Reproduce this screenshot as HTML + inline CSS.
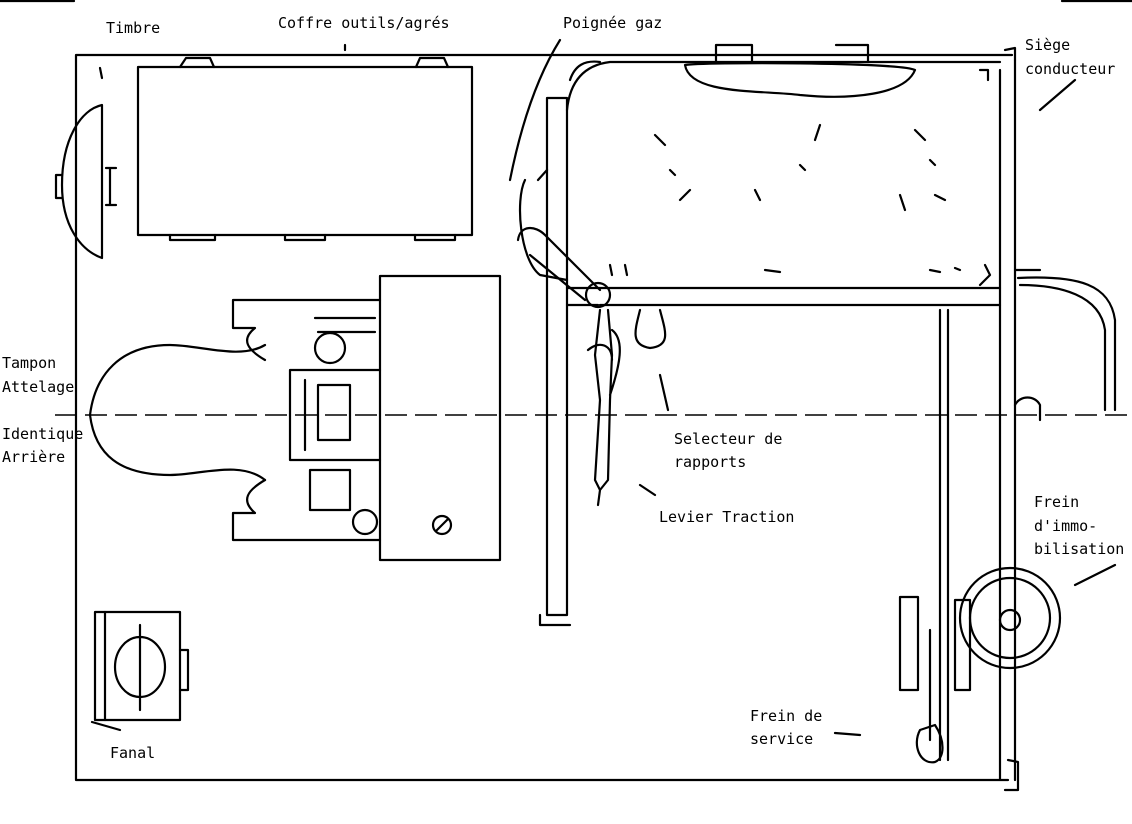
<!DOCTYPE html>
<html><head><meta charset="utf-8"><style>
html,body{margin:0;padding:0;background:#fff}
svg{display:block}
text{font-family:"DejaVu Sans Mono","Liberation Mono",monospace;font-size:15px;fill:#000}
</style></head><body>
<svg width="1132" height="824" viewBox="0 0 1132 824" xmlns="http://www.w3.org/2000/svg">
<g fill="none" stroke="#000" stroke-width="2.2" stroke-linecap="round" stroke-linejoin="round">
<line x1="0" y1="1" x2="74" y2="1"/>
<line x1="1062" y1="1" x2="1132" y2="1"/>
<path d="M76 55 L1012 55 M76 55 L76 780 L1008 780 M1000 70 L1000 780 M1015 60 L1015 780"/>
<path d="M1005 50 L1015 48 L1015 60 M1008 760 L1018 762 L1018 790 L1005 790"/>
<path d="M100 68 L102 78"/>
<path d="M102 105 C80 110 62 140 62 185 C62 225 80 250 102 258 Z"/>
<path d="M62 175 L56 175 L56 198 L62 198 M110 168 L110 205 M106 168 L116 168 M106 205 L116 205"/>
<rect x="138" y="67" width="334" height="168"/>
<path d="M180 67 L186 58 L210 58 L214 67 M416 67 L420 58 L444 58 L448 67 M170 235 L170 240 L215 240 L215 235 M285 235 L285 240 L325 240 L325 235 M415 235 L415 240 L455 240 L455 235"/>
<path d="M547 98 L567 98 L567 615 L547 615 Z M547 615 L547 600 M540 615 L540 625 L570 625"/>
<path d="M567 110 C570 80 585 65 610 62 L1000 62 M600 62 C585 60 575 65 570 80"/>
<path d="M567 288 L1000 288 M600 305 L1000 305 M567 305 L598 305"/>
<path d="M980 70 L988 70 L988 80 M985 265 L990 275 L980 285"/>
<path d="M685 65 C690 95 760 90 800 95 C850 100 905 95 915 70 C900 62 700 62 685 65 Z"/>
<path d="M716 45 L752 45 L752 62 M716 45 L716 62 M836 45 L868 45 L868 62"/>
<path d="M525 180 C515 200 520 260 540 275 L567 280 M538 180 L547 170"/>
<path d="M518 240 C520 225 535 225 545 235 L600 290 M530 255 L585 300"/>
<circle cx="598" cy="295" r="12"/>
<path d="M610 265 L612 275 M625 265 L627 275 M930 270 L940 272 M955 268 L960 270 M765 270 L780 272 M670 170 L675 175 M800 165 L805 170 M930 160 L935 165 M820 125 L815 140 M915 130 L925 140 M655 135 L665 145 M755 190 L760 200 M690 190 L680 200 M900 195 L905 210 M935 195 L945 200"/>
<path d="M940 310 L940 760 M948 310 L948 760"/>
<path d="M600 310 L595 355 L600 400 L595 480 L600 490 L608 480 L610 400 L612 355 L608 310 M612 330 C625 340 620 365 610 395 M588 350 C600 340 612 345 612 360 M600 490 L598 505"/>
<path d="M640 310 C635 330 630 345 650 348 C672 346 665 330 660 310"/>
<path d="M1015 270 L1040 270 M1018 278 C1080 275 1110 285 1115 320 L1115 410 M1020 285 C1060 285 1100 295 1105 330 L1105 410"/>
<path d="M1015 405 C1020 395 1035 395 1040 405 L1040 420"/>
<rect x="380" y="276" width="120" height="284"/>
<path d="M233 300 L233 328 L255 328 C240 340 248 350 265 360 M233 300 L380 300"/>
<path d="M233 540 L233 513 L255 513 C240 500 248 490 265 480 M233 540 L380 540"/>
<path d="M290 370 L380 370 M290 370 L290 460 L380 460 M305 380 L305 450 M318 385 L350 385 L350 440 L318 440 Z"/>
<path d="M310 470 L350 470 L350 510 L310 510 Z"/>
<circle cx="330" cy="348" r="15"/>
<path d="M315 318 L375 318 M318 332 L375 332"/>
<circle cx="365" cy="522" r="12"/>
<circle cx="442" cy="525" r="9"/>
<path d="M436 531 L448 519"/>
<path d="M265 345 C240 360 200 345 170 345 C120 345 95 375 90 415 C95 455 120 475 170 475 C200 475 240 460 265 480"/>
<rect x="95" y="612" width="85" height="108"/>
<path d="M105 612 L105 720 M180 650 L188 650 L188 690 L180 690"/>
<ellipse cx="140" cy="667" rx="25" ry="30"/>
<path d="M140 625 L140 710 M92 722 L120 730"/>
<circle cx="1010" cy="618" r="50"/>
<circle cx="1010" cy="618" r="40"/>
<circle cx="1010" cy="620" r="10"/>
<path d="M900 597 L918 597 L918 690 L900 690 Z M955 600 L970 600 L970 690 L955 690 Z M930 630 L930 740"/>
<path d="M920 730 C912 745 920 765 935 762 C945 758 945 740 935 725 Z"/>
<path d="M345 50 L345 45 M560 40 C535 80 520 130 510 180 M1075 80 L1040 110 M660 375 L668 410 M640 485 L655 495 M1115 565 L1075 585 M860 735 L835 733"/>
</g>
<line x1="55" y1="415" x2="1132" y2="415" stroke="#000" stroke-width="1.5" stroke-dasharray="22,8"/>
<g>
<text x="106" y="33">Timbre</text>
<text x="278" y="28">Coffre outils/agrés</text>
<text x="563" y="28">Poignée gaz</text>
<text x="1025" y="50">Siège</text>
<text x="1025" y="74">conducteur</text>
<text x="2" y="368">Tampon</text>
<text x="2" y="392">Attelage</text>
<text x="2" y="439">Identique</text>
<text x="2" y="462">Arrière</text>
<text x="674" y="444">Selecteur de</text>
<text x="674" y="467">rapports</text>
<text x="659" y="522">Levier Traction</text>
<text x="1034" y="507">Frein</text>
<text x="1034" y="531">d'immo-</text>
<text x="1034" y="554">bilisation</text>
<text x="750" y="721">Frein de</text>
<text x="750" y="744">service</text>
<text x="110" y="758">Fanal</text>
</g>
</svg>
</body></html>
